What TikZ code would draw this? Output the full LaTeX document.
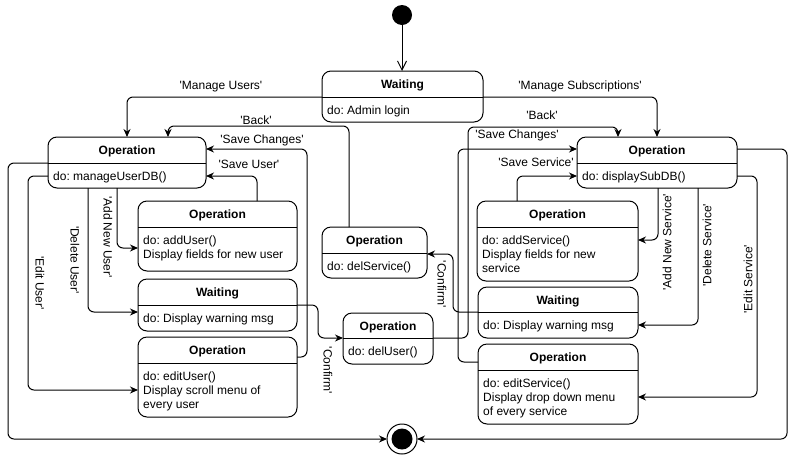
\documentclass[tikz,border=0pt]{standalone}
\usepackage{fontspec}
\setmainfont{Liberation Sans}[Ligatures=TeXOff]
\usetikzlibrary{arrows.meta,calc}
\tikzset{
  x=1pt, y=-1pt,
  box/.style={draw, fill=white, rounded corners=9pt, line width=1pt, inner sep=0pt, outer sep=0pt, anchor=north west},
  ttl/.style={font=\fontsize{12}{14}\selectfont\bfseries, anchor=base, inner sep=0pt},
  bod/.style={font=\fontsize{12}{14}\selectfont, anchor=north west, align=left, inner sep=0pt},
  lbl/.style={font=\fontsize{12}{14}\selectfont, inner sep=0pt},
  edge/.style={line width=1pt, rounded corners=6pt, -{Stealth[length=8pt,width=7pt]}},
  divl/.style={line width=1pt},
}
\newcommand\mkstate[8]{%
  \node[box, minimum width={(#4-#2)*1pt}, minimum height={(#5-#3)*1pt}] (#1) at (#2,#3) {};
  \draw[divl] (#1.west |- 0,#6) -- (#1.east |- 0,#6);
  \node[ttl] (#1t) at ({(#2+#4)/2},{(#3+#6)/2+4.5}) {#7};
  \node[bod] (#1b) at (#2+5,#6+8) {\rule{0pt}{9.5pt}#8};
}
\frenchspacing
\begin{document}
\begin{tikzpicture}
\useasboundingbox (0,0) rectangle (797,456);
% states
\mkstate{wait0}{322}{71}{483}{122}{97}{Waiting}{do: Admin login}
\mkstate{opu}{48}{137}{206}{188}{163}{Operation}{do: manageUserDB()}
\mkstate{ops}{577}{137}{737}{188}{163}{Operation}{do: displaySubDB()}
\mkstate{addu}{138}{201}{297}{271}{227}{Operation}{do: addUser()\\Display fields for new user}
\mkstate{waitu}{138}{279}{297}{331}{305}{Waiting}{do: Display warning msg}
\mkstate{editu}{138}{337}{297}{417}{363}{Operation}{do: editUser()\\Display scroll menu of\\every user}
\mkstate{dels}{322}{227}{427}{278}{253}{Operation}{do: delService()}
\mkstate{delu}{343}{313}{433}{364}{338}{Operation}{do: delUser()}
\mkstate{adds}{477}{201}{638}{281}{227}{Operation}{do: addService()\\Display fields for new\\service}
\mkstate{waits}{478}{287}{638}{338}{312}{Waiting}{do: Display warning msg}
\mkstate{edits}{478}{344}{638}{424}{370}{Operation}{do: editService()\\Display drop down menu\\of every service}
% initial and final
\node[circle, fill=black, minimum size=20pt, inner sep=0pt] (init) at (402,15) {};
\node[circle, draw, fill=white, line width=1pt, minimum size=30pt, inner sep=0pt, outer sep=0pt] (fin) at (402,439) {};
\node[circle, fill=black, minimum size=21pt, inner sep=0pt] (finin) at (fin) {};
% connectors
\draw[line width=1pt, -{Straight Barb[length=9pt,width=9pt]}] (init) -- (init |- wait0.north);
\draw[edge] (wait0.west |- 0,97) -| (opu.north);
\draw[edge] (wait0.east |- 0,97) -| (ops.north);
\draw[edge] (dels.north -| 349,0) |- (168,126) -- (opu.north -| 168,0);
\draw[edge] (delu.east |- 0,338) -| (468,127) -| (ops.north -| 618,0);
\draw[edge] (editu.east |- 0,357) -| (307,149) -- (opu.east |- 0,149);
\draw[edge] (addu.north -| 257,0) |- (opu.east |- 0,176);
\draw[edge] (opu.south -| 117,0) |- (addu.west |- 0,248);
\draw[edge] (opu.south -| 88,0) |- (waitu.west |- 0,312);
\draw[edge] (opu.west |- 0,176) -| (28,390) -- (editu.west |- 0,390);
\draw[edge] (opu.west |- 0,163) -| (8,439) -- (fin.west);
\draw[edge] (waitu.east |- 0,305) -| (318,338) -- (delu.west |- 0,338);
\draw[edge] (adds.north -| 517,0) |- (ops.west |- 0,176);
\draw[edge] (edits.west |- 0,362) -| (458,149) -- (ops.west |- 0,149);
\draw[edge] (ops.south -| 658,0) |- (adds.east |- 0,240);
\draw[edge] (ops.south -| 698,0) |- (waits.east |- 0,325);
\draw[edge] (ops.east |- 0,176) -| (757,397) -- (edits.east |- 0,397);
\draw[edge] (ops.east |- 0,149) -| (787,439) -- (fin.east);
\draw[edge] (waits.west |- 0,312) -| (453,254) -- (dels.east |- 0,254);
% labels
\node[lbl] (lmu) at (221,87) {'Manage Users'};
\node[lbl] (lms) at (580,86) {'Manage Subscriptions'};
\node[lbl] (lbl) at (256,120) {'Back'};
\node[lbl] (lbr) at (542,115) {'Back'};
\node[lbl] (lscl) at (262,140) {'Save Changes'};
\node[lbl] (lsu) at (249,164) {'Save User'};
\node[lbl] (lscr) at (517,135) {'Save Changes'};
\node[lbl] (lss) at (536,162) {'Save Service'};
\node[lbl, rotate=-90] (lanu) at (108,237) {'Add New User'};
\node[lbl, rotate=-90] (ldu) at (75,260) {'Delete User'};
\node[lbl, rotate=-90] (leu) at (40,283) {'Edit User'};
\node[lbl, rotate=-90] (lcl) at (328,370) {'Confirm'};
\node[lbl, rotate=-90] (lcr) at (442,284) {'Confirm'};
\node[lbl, rotate=90] (lans) at (667,242) {'Add New Service'};
\node[lbl, rotate=90] (lds) at (707,245) {'Delete Service'};
\node[lbl, rotate=90] (les) at (748,279) {'Edit Service'};
\end{tikzpicture}
\end{document}
